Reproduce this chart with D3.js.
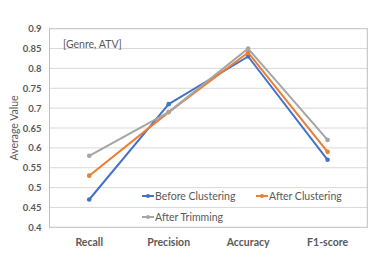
<!DOCTYPE html>
<html>
<head>
<meta charset="utf-8">
<script src="https://cdn.jsdelivr.net/npm/d3@7"></script>
<style>
  html, body { margin: 0; padding: 0; background: #fff; }
  svg { display: block; font-family: Lato, "Liberation Sans", sans-serif; }
</style>
</head>
<body>
<div id="chart"></div>
<script>
// Data.
const categories = ['Recall', 'Precision', 'Accuracy', 'F1-score'];
const seriesNames = ['Before Clustering', 'After Clustering', 'After Trimming'];
const beforeClustering = [0.47, 0.71, 0.83, 0.57];
const afterClustering = [0.53, 0.69, 0.84, 0.59];
const afterTrimming = [0.58, 0.69, 0.85, 0.62];
const yTicks = [0.4, 0.45, 0.5, 0.55, 0.6, 0.65, 0.7, 0.75, 0.8, 0.85, 0.9];

const colours = ['#4472C4', '#ED7D31', '#A5A5A5'];
const series = [beforeClustering, afterClustering, afterTrimming]
  .map((vals, i) => ({ name: seriesNames[i], colour: colours[i], values: vals }));

const W = 374, H = 275;
const plot = { left: 49.5, top: 28.7, right: 367.3, bottom: 227.3 };

const svg = d3.select('#chart').append('svg')
  .attr('width', W).attr('height', H);

const x = d3.scaleBand().domain(categories).range([plot.left, plot.right]);
const y = d3.scaleLinear().domain([0.4, 0.9]).range([plot.bottom, plot.top]);
const cx = c => x(c) + x.bandwidth() / 2;

// Gridlines.
svg.append('g').selectAll('line')
  .data(yTicks.slice(1, -1))
  .enter().append('line')
    .attr('x1', plot.left).attr('x2', plot.right)
    .attr('y1', d => y(d)).attr('y2', d => y(d))
    .attr('stroke', '#d9d9d9').attr('stroke-width', 1);

// Plot border.
svg.append('rect')
  .attr('x', plot.left).attr('y', plot.top)
  .attr('width', plot.right - plot.left).attr('height', plot.bottom - plot.top)
  .attr('fill', 'none').attr('stroke', '#bfbfbf').attr('stroke-width', 1);

// Y axis tick labels.
const yAxis = d3.axisLeft(y).tickValues(yTicks).tickSize(0).tickPadding(0)
  .tickFormat(d => String(+d.toFixed(2)));
svg.append('g')
  .attr('transform', `translate(${plot.left - 8},0)`)
  .call(yAxis)
  .call(g => g.select('.domain').remove())
  .call(g => g.selectAll('text')
    .attr('fill', '#595959').attr('font-size', 9.5).attr('font-weight', 'bold')
    .attr('font-family', 'Lato, "Liberation Sans", sans-serif'));

// X axis category labels.
const xAxis = d3.axisBottom(x).tickSize(0).tickPadding(0);
svg.append('g')
  .attr('transform', `translate(0,${plot.bottom + 11})`)
  .call(xAxis)
  .call(g => g.select('.domain').remove())
  .call(g => g.selectAll('text')
    .attr('fill', '#595959').attr('font-size', 10.5).attr('font-weight', 'bold')
    .attr('font-family', 'Lato, "Liberation Sans", sans-serif'));

// Y axis title.
svg.append('text')
  .attr('transform', `translate(18,${(plot.top + plot.bottom) / 2}) rotate(-90)`)
  .attr('text-anchor', 'middle')
  .attr('fill', '#595959').attr('font-size', 10.5)
  .text('Average Value');

// Annotation.
svg.append('text')
  .attr('x', 63).attr('y', 48)
  .attr('fill', '#595959').attr('font-size', 10.5)
  .text('[Genre, ATV]');

// Lines + markers.
const line = d3.line()
  .x((d, i) => cx(categories[i]))
  .y(d => y(d));

const sg = svg.append('g').selectAll('g')
  .data(series)
  .enter().append('g');

sg.append('path')
  .attr('d', d => line(d.values))
  .attr('fill', 'none')
  .attr('stroke', d => d.colour)
  .attr('stroke-width', 2)
  .attr('stroke-linejoin', 'round');

sg.selectAll('circle')
  .data(d => d.values.map((v, i) => ({ v, i, colour: d.colour })))
  .enter().append('circle')
    .attr('cx', d => cx(categories[d.i]))
    .attr('cy', d => y(d.v))
    .attr('r', 2.3)
    .attr('fill', d => d.colour);

// Legend (inside the plot, no background).
const legendPos = [
  { x: 142, y: 196 },
  { x: 256, y: 196 },
  { x: 142, y: 217 }
];
const lg = svg.append('g').selectAll('g')
  .data(series)
  .enter().append('g')
    .attr('transform', (d, i) => `translate(${legendPos[i].x},${legendPos[i].y})`);
lg.append('line')
  .attr('x1', 0).attr('x2', 12).attr('y1', 0).attr('y2', 0)
  .attr('stroke', d => d.colour).attr('stroke-width', 2);
lg.append('circle')
  .attr('cx', 6).attr('cy', 0).attr('r', 2)
  .attr('fill', d => d.colour);
lg.append('text')
  .attr('x', 13).attr('y', 0).attr('dy', '0.35em')
  .attr('fill', '#595959').attr('font-size', 10.5)
  .text(d => d.name);
</script>
</body>
</html>
